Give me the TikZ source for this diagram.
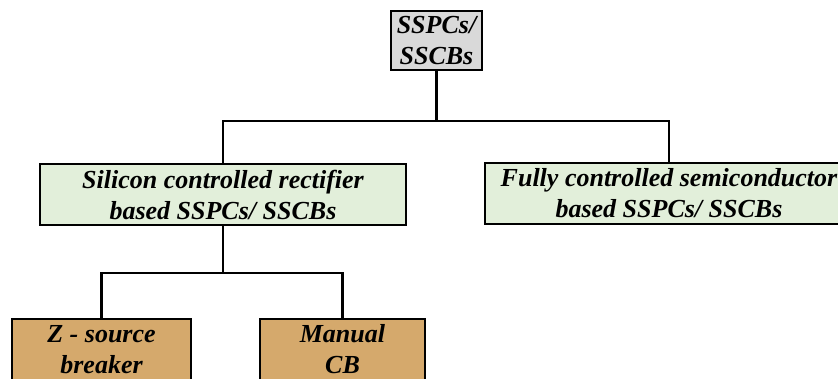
\documentclass[tikz,border=0pt]{standalone}
\usepackage{fontspec}
\setmainfont{Liberation Serif}
\begin{document}
\begin{tikzpicture}[x=1pt,y=-1pt,
  box/.style={draw=black, line width=1.6pt, rectangle, inner sep=0pt,
    align=center, font=\fontsize{26}{31}\selectfont\bfseries\itshape},
  rootbox/.style={box, fill=rootgray, minimum width=91pt, minimum height=59pt},
  midbox/.style={box, fill=midgreen, minimum height=61pt},
  leafbox/.style={box, fill=leaftan, minimum height=61pt},
  link/.style={draw=black, line width=2.4pt}]
\definecolor{rootgray}{HTML}{D9D9D9}
\definecolor{midgreen}{HTML}{E2EFDA}
\definecolor{leaftan}{HTML}{D5A96C}
\useasboundingbox (0,0) rectangle (838,378);
\clip (0,0) rectangle (838,378);
\fill[white] (0,0) rectangle (838,378);

% tree nodes
\node[rootbox] (root) at (436.5,40.5) {SSPCs/\\SSCBs};
\node[midbox, minimum width=366pt] (scr) at (223,194.5)
  {Silicon controlled rectifier\\based SSPCs/ SSCBs};
\node[midbox, minimum width=368pt] (fcs) at (669,193.5)
  {Fully controlled semiconductor\\based SSPCs/ SSCBs};
\node[leafbox, minimum width=179pt] (zsb) at (101.5,349.5) {Z - source\\breaker};
\node[leafbox, minimum width=165pt] (mcb) at (342.5,349.5) {Manual\\CB};

% junction points of the connectors
\coordinate (j1) at (436.5,121);
\coordinate (j2) at (223,273);

% connectors
\draw[link] (root.south) -- (j1);
\draw[link] (scr.north) |- (j1) -| (fcs.north);
\draw[link] (scr.south) -- (j2);
\draw[link] (zsb.north) |- (j2) -| (mcb.north);
\end{tikzpicture}
\end{document}
